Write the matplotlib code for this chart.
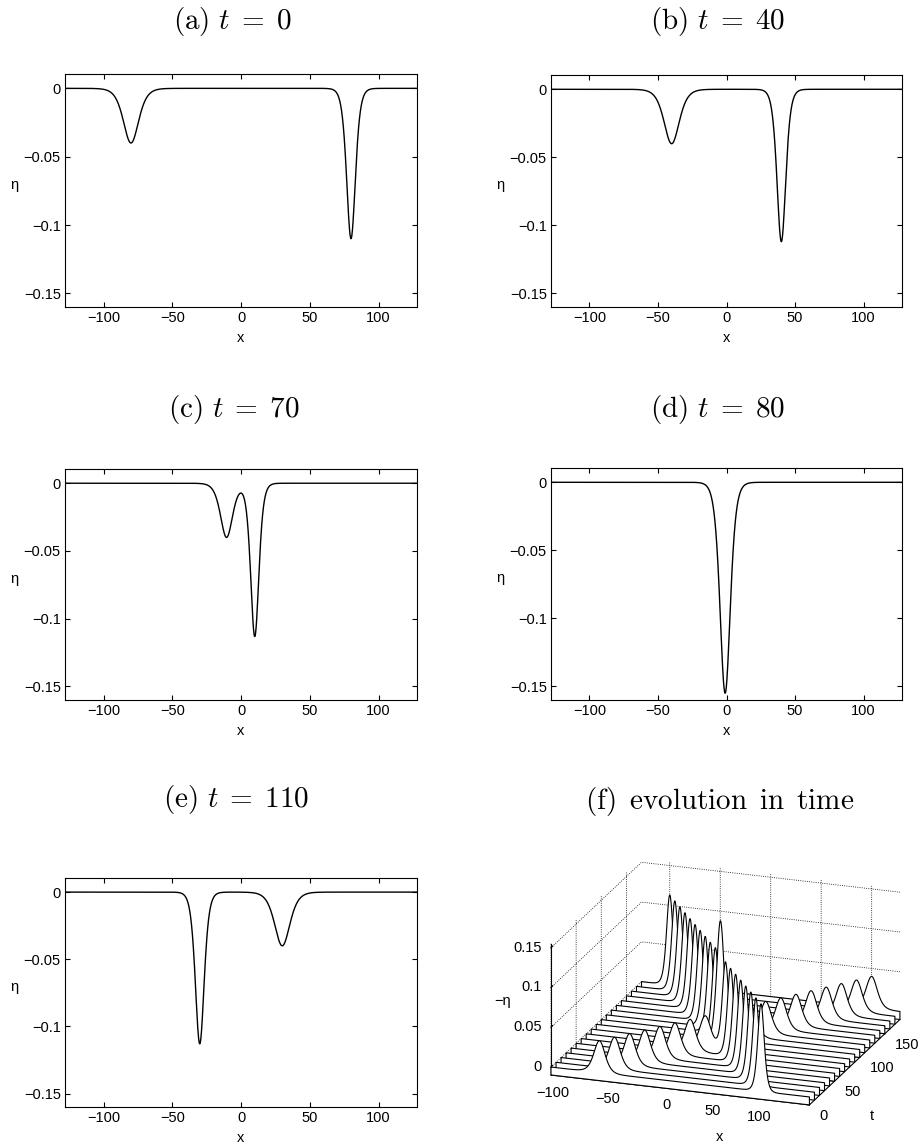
import numpy as np
import matplotlib
matplotlib.use('Agg')
import matplotlib.pyplot as plt
from matplotlib.collections import PolyCollection
from mpl_toolkits.mplot3d import proj3d

plt.rcParams['font.family'] = ['Liberation Sans', 'DejaVu Sans']
plt.rcParams['mathtext.fontset'] = 'cm'

# x range of the domain
x_lo, x_hi = -128, 128

# 2d snapshots: label, time, pulse centres / amplitudes / inverse widths
panel_labels = ['(a)', '(b)', '(c)', '(d)', '(e)']
panel_times = [0, 40, 70, 80, 110]
pulse_centres = [[-80, 80], [-40, 40], [-10.5, 10], [-1], [-30, 30]]
pulse_amps = [[0.04, 0.11], [0.04, 0.112], [0.04, 0.113], [0.155], [0.113, 0.04]]
pulse_k = [[0.135, 0.234], [0.135, 0.234], [0.17, 0.25], [0.2], [0.234, 0.135]]

y_ticks = [0, -0.05, -0.1, -0.15]
y_ticklabels = ['0', '\u22120.05', '\u22120.1', '\u22120.15']
x_ticks = [-100, -50, 0, 50, 100]
x_ticklabels = ['\u2212100', '\u221250', '0', '50', '100']

# waterfall rows (t, small pulse pos, large pulse pos)
wf_times = [0, 10, 20, 30, 40, 50, 60, 70, 80, 90, 100, 110, 120, 130, 140, 150, 160, 170, 180]
wf_small_pos = [-80, -70, -60, -50, -40, -30, -20, -10, 0, 10, 20, 30, 40, 50, 60, 70, 80, 90, 100]
wf_large_pos = [80, 70, 60, 50, 40, 30, 20, 10, 0, -10, -20, -30, -40, -50, -60, -70, -80, -90, -100]
wf_small_amp = [0.04] * 8 + [0.0] + [0.04] * 10
wf_large_amp = [0.11] * 8 + [0.155] + [0.113] * 10
wf_large_k = [0.234] * 8 + [0.2] + [0.234] * 10
t_ticks = [0, 50, 100, 150]
z_ticks = [0, 0.05, 0.1, 0.15]
z_ticklabels = ['0', '0.05', '0.1', '0.15']


def profile(x, centres, amps, ks):
    eta = np.zeros_like(x)
    for c, a, k in zip(centres, amps, ks):
        eta -= a / np.cosh(k * (x - c)) ** 2
    return eta


x = np.linspace(x_lo, x_hi, 1200)

W, H = 923, 1147
fig = plt.figure(figsize=(W / 100, H / 100), dpi=100)
FS = 10.5
TFS = 21

# axes boxes in pixels (left, top, right, bottom)
boxes = [(65, 74, 417, 307), (551, 75, 902, 307),
         (65, 469, 417, 700), (551, 468, 902, 700),
         (65, 878, 417, 1107)]
title_pos = [(232, 22), (718, 22), (234, 410), (718, 410), (236, 800), (720, 801)]

for i in range(5):
    l, t, r, b = boxes[i]
    ax = fig.add_axes([l / W, 1 - b / H, (r - l) / W, (b - t) / H])
    eta = profile(x, pulse_centres[i], pulse_amps[i], pulse_k[i])
    ax.plot(x, eta, color='k', lw=1)
    ax.set_xlim(x_lo, x_hi)
    ax.set_ylim(-0.16, 0.0105)
    ax.set_xticks(x_ticks)
    ax.set_xticklabels(x_ticklabels)
    ax.set_yticks(y_ticks)
    ax.set_yticklabels(y_ticklabels)
    ax.tick_params(direction='in', top=True, right=True, length=3.5,
                   labelsize=FS, width=0.8, pad=3)
    ax.set_xlabel('x', fontsize=FS, va='center')
    ax.xaxis.set_label_coords(0.5, -31 / (b - t))
    ax.set_ylabel('\u03b7', fontsize=FS, rotation=0, va='center', ha='center')
    ax.yaxis.set_label_coords(-51 / (r - l), 0.5 + 6 / (b - t))
    for s in ax.spines.values():
        s.set_linewidth(0.8)
    fig.text(title_pos[i][0] / W, 1 - title_pos[i][1] / H,
             r'$\mathrm{' + panel_labels[i] + r'}\ t\;=\;' + str(panel_times[i]) + '$',
             ha='center', va='center', fontsize=TFS)

fig.text(title_pos[5][0] / W, 1 - title_pos[5][1] / H,
         r'$\mathrm{(f)\ \,evolution\ \,in\ \,time}$', ha='center', va='center', fontsize=TFS)

# (f) waterfall
z_lo, z_hi = -0.01, 0.155
rect = [540, 850, 380, 280]  # left, top, w, h in px (refit below)
ax3 = fig.add_axes([rect[0] / W, 1 - (rect[1] + rect[3]) / H, rect[2] / W, rect[3] / H],
                   projection='3d')
verts = []
for j in range(len(wf_times)):
    z = -profile(x, [wf_small_pos[j], wf_large_pos[j]],
                 [wf_small_amp[j], wf_large_amp[j]],
                 [0.135, wf_large_k[j]])
    verts.append([(x_lo, z_lo)] + list(zip(x, z)) + [(x_hi, z_lo)])
poly = PolyCollection(verts, facecolors='white', edgecolors='k', linewidths=0.8)
ax3.add_collection3d(poly, zs=wf_times, zdir='y')
ax3.set_xlim(x_lo, x_hi)
ax3.set_ylim(0, 180)
ax3.set_zlim(z_lo, z_hi)
ax3.set_xticks(x_ticks)
ax3.set_yticks(t_ticks)
ax3.set_zticks(z_ticks)
ax3.set_xticklabels([])
ax3.set_yticklabels([])
ax3.set_zticklabels([])
for a in (ax3.xaxis, ax3.yaxis, ax3.zaxis):
    a.pane.fill = False
    a.pane.set_edgecolor('none')
    a._axinfo['grid'].update(linestyle=':', color='k', linewidth=0.6)
    a._axinfo['tick'].update(inward_factor=0.0, outward_factor=0.25)
    a.line.set_linewidth(0.8)
ax3.zaxis.set_ticks_position('lower')
ax3.view_init(elev=19.3, azim=-70.7)
ax3.set_proj_type('ortho')
ax3.set_box_aspect((1, 1, 0.508))

# refit the axes so the box corners land where they should
fig.canvas.draw()


def to_px(px, py, pz):
    xs, ys, _ = proj3d.proj_transform(px, py, pz, ax3.get_proj())
    u, v = ax3.transData.transform((xs, ys))
    return np.array([u, H - v])


p1 = to_px(x_lo, 0, z_lo)      # front left
p2 = to_px(x_hi, 180, z_lo)    # back right
t1 = np.array([551, 1075])
t2 = np.array([900, 1020])
s = np.linalg.norm(t2 - t1) / np.linalg.norm(p2 - p1)
c = np.array([rect[0] + rect[2] / 2, rect[1] + rect[3] / 2])
c_new = t1 - s * (p1 - c)
nw, nh = rect[2] * s, rect[3] * s
ax3.set_position([(c_new[0] - nw / 2) / W, 1 - (c_new[1] + nh / 2) / H, nw / W, nh / H])
fig.canvas.draw()


def put(px_xy, txt, **kw):
    fig.text(px_xy[0] / W, 1 - px_xy[1] / H, txt, fontsize=FS, **kw)


for v, lab in zip(x_ticks, x_ticklabels):
    p = to_px(v, 0, z_lo)
    put(p + np.array([-10, 15]), lab, ha='right', va='center')
for v in t_ticks:
    p = to_px(x_hi, v, z_lo)
    put(p + np.array([10, 11]), str(v), ha='left', va='center')
for v, lab in zip(z_ticks, z_ticklabels):
    p = to_px(x_lo, 0, v)
    put(p + np.array([-9, 0]), lab, ha='right', va='center')
put((720, 1137), 'x', ha='center', va='center')
put((872, 1116), 't', ha='center', va='center')
put((503, 1001), '\u2212\u03b7', ha='center', va='center')

fig.savefig('out.png', dpi=100)
